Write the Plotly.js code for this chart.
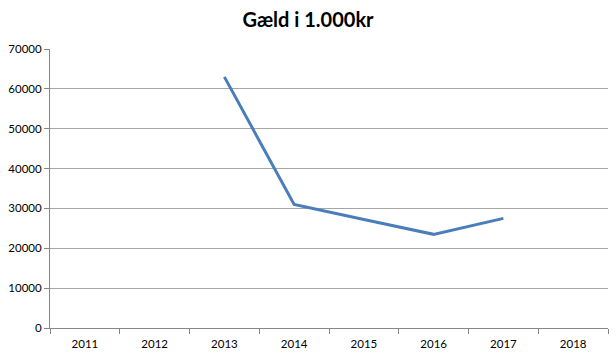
<!DOCTYPE html>
<html><head><meta charset="utf-8">
<script src="https://cdn.plot.ly/plotly-3.0.1.min.js"></script>
<style>html,body{margin:0;padding:0;background:#fff;}#chart{width:616px;height:358px;}</style>
</head><body><div id="chart"></div>
<script>
const years = ["2011","2012","2013","2014","2015","2016","2017","2018"];
const debt = [null, null, 63000, 31000, 27200, 23500, 27500, null];
const yTicks = [0,10000,20000,30000,40000,50000,60000,70000];
const titleText = "Gæld i 1.000kr";

Plotly.newPlot("chart", [{
  x: years, y: debt, type: "scatter", mode: "lines",
  line: {color: "#4a7ebb", width: 3}, connectgaps: false, hoverinfo: "skip"
}], {
  width: 616, height: 358,
  margin: {l: 50, r: 8, t: 49, b: 30},
  paper_bgcolor: "#fff", plot_bgcolor: "#fff",
  showlegend: false,
  title: {text: "<b>" + titleText + "</b>", x: 0.5, xanchor: "center", y: 0.945, yanchor: "middle",
          font: {family: "Lato, 'Open Sans', sans-serif", size: 20, color: "#000"}},
  xaxis: {
    type: "category", range: [-0.5, 7.5], tickson: "boundaries",
    ticks: "outside", ticklen: 5, tickcolor: "#868686", tickwidth: 1,
    ticklabelstandoff: 5,
    showline: true, linecolor: "#868686", linewidth: 1,
    showgrid: false, zeroline: false,
    tickfont: {family: "Lato, 'Open Sans', sans-serif", size: 11.5, color: "#000"}
  },
  yaxis: {
    range: [0, 70000], tickvals: yTicks, ticktext: yTicks.map(String),
    ticks: "outside", ticklen: 5, tickcolor: "#868686", tickwidth: 1,
    showline: true, linecolor: "#868686", linewidth: 1,
    showgrid: true, gridcolor: "#a6a6a6", gridwidth: 1, zeroline: false,
    tickfont: {family: "Lato, 'Open Sans', sans-serif", size: 11.5, color: "#000"}
  }
}, {staticPlot: true, displayModeBar: false});
</script></body></html>
